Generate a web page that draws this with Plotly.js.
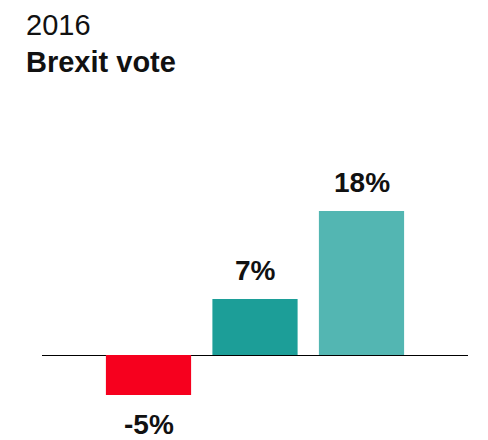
<!DOCTYPE html>
<html>
<head>
<meta charset="utf-8">
<script src="https://cdn.plot.ly/plotly-3.0.1.min.js"></script>
<style>html,body{margin:0;padding:0;background:#fff;}#chart{width:488px;height:440px;}</style>
</head>
<body>
<div id="chart"></div>
<script>
// Data
const positions = [1, 2, 3];
const values = [-5, 7, 18];
const valueLabels = ["-5%", "7%", "18%"];
const barColors = ["#f6001e", "#1c9e98", "#53b6b2"];
const subtitle = "2016";
const chartTitle = "Brexit vote";

const FONT = "Arial, 'Liberation Sans', Helvetica, sans-serif";

const trace = {
  type: "bar",
  x: positions,
  y: values,
  width: 0.8,
  marker: { color: barColors, line: { width: 0 } },
  hoverinfo: "skip"
};

const annotations = values.map((v, i) => ({
  x: positions[i],
  y: v,
  xref: "x",
  yref: "y",
  text: "<b>" + valueLabels[i] + "</b>",
  showarrow: false,
  xanchor: "center",
  yanchor: v >= 0 ? "bottom" : "top",
  yshift: v >= 0 ? 11 : -12,
  font: { family: FONT, size: 28, color: "#111" }
}));

annotations.push({
  xref: "paper", yref: "paper",
  x: -0.0423, y: (435 - 7) / 320,
  xanchor: "left", yanchor: "top",
  text: subtitle,
  showarrow: false,
  font: { family: FONT, size: 29, color: "#111" }
});
annotations.push({
  xref: "paper", yref: "paper",
  x: -0.0423, y: (435 - 44) / 320,
  xanchor: "left", yanchor: "top",
  text: "<b>" + chartTitle + "</b>",
  showarrow: false,
  font: { family: FONT, size: 29, color: "#111" }
});

const layout = {
  width: 488,
  height: 440,
  margin: { l: 42, r: 20, t: 115, b: 5, pad: 0 },
  paper_bgcolor: "#fff",
  plot_bgcolor: "#fff",
  showlegend: false,
  xaxis: {
    range: [0, 4],
    showgrid: false,
    zeroline: false,
    showticklabels: false,
    ticks: "",
    showline: false,
    fixedrange: true
  },
  yaxis: {
    range: [-10, 30],
    showgrid: false,
    zeroline: true,
    zerolinecolor: "#000",
    zerolinewidth: 1,
    showticklabels: false,
    ticks: "",
    showline: false,
    fixedrange: true
  },
  annotations: annotations
};

Plotly.newPlot("chart", [trace], layout, { displayModeBar: false, staticPlot: true });
</script>
</body>
</html>
